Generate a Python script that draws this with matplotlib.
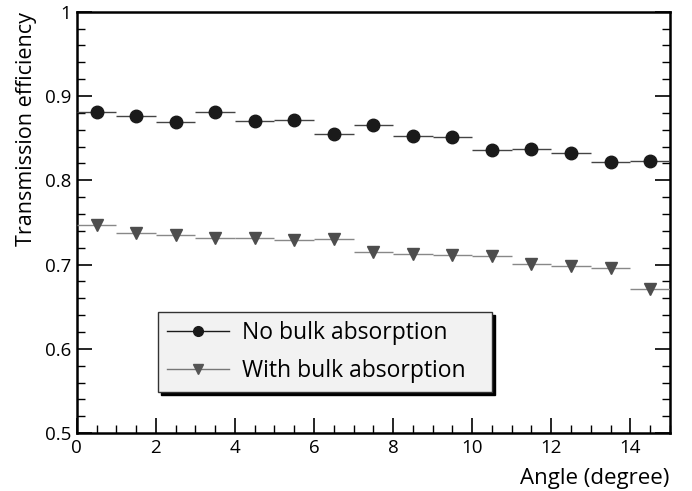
#!/usr/bin/env python3
# transmission efficiency vs angle, ROOT-like style

import matplotlib
matplotlib.use("Agg")
import matplotlib.pyplot as plt
from matplotlib.lines import Line2D
from matplotlib.ticker import MultipleLocator
import numpy as np

angle = [0.5, 1.5, 2.5, 3.5, 4.5, 5.5, 6.5, 7.5, 8.5, 9.5, 10.5, 11.5, 12.5, 13.5, 14.5]
angle_err = [0.5] * len(angle)
no_bulk = [0.881, 0.876, 0.869, 0.881, 0.870, 0.871, 0.855, 0.866, 0.852, 0.851,
           0.836, 0.837, 0.832, 0.822, 0.823]
with_bulk = [0.747, 0.738, 0.735, 0.731, 0.731, 0.729, 0.730, 0.715, 0.713, 0.711,
             0.710, 0.701, 0.698, 0.696, 0.671]

plt.rcParams['font.family'] = ['Open Sans', 'DejaVu Sans']

fig = plt.figure(figsize=(6.92, 4.91), dpi=100)
ax = fig.add_axes([0.111, 0.118, 0.857, 0.858])

ax.errorbar(angle, no_bulk, xerr=angle_err, fmt='o', color='#1a1a1a', ms=9,
            ecolor='#444444', elinewidth=1.0, capsize=0, zorder=3)
ax.errorbar(angle, with_bulk, xerr=angle_err, fmt='v', color='#4d4d4d', ms=9,
            ecolor='#888888', elinewidth=1.0, capsize=0, zorder=3)

ax.set_xlim(0, 15)
ax.set_ylim(0.5, 1.0)
ax.xaxis.set_major_locator(MultipleLocator(2))
ax.xaxis.set_minor_locator(MultipleLocator(0.5))
ax.yaxis.set_major_locator(MultipleLocator(0.1))
ax.yaxis.set_minor_locator(MultipleLocator(0.02))
ax.set_yticks([0.5, 0.6, 0.7, 0.8, 0.9, 1.0])
ax.set_yticklabels(['0.5', '0.6', '0.7', '0.8', '0.9', '1'])

ax.tick_params(which='both', direction='in', top=False, right=True, labelsize=13.5, pad=4)
ax.tick_params(which='major', length=11, width=1.2)
ax.tick_params(which='minor', length=6, width=1.0)
for s in ax.spines.values():
    s.set_linewidth(1.8)

ax.set_xlabel('Angle (degree)', fontsize=16, loc='right', labelpad=8)
ax.set_ylabel('Transmission efficiency', fontsize=15.5, loc='top', labelpad=6)

h1 = Line2D([], [], color='#1a1a1a', marker='o', ms=7, lw=1.0)
h2 = Line2D([], [], color='#777777', marker='v', ms=7, lw=1.0,
            markerfacecolor='#555555', markeredgecolor='#555555')
leg = ax.legend([h1, h2], ['No bulk absorption', 'With bulk absorption'],
                loc='lower left', bbox_to_anchor=(0.137, 0.097, 0.563, 0.188),
                mode='expand', fontsize=16.5, frameon=True, fancybox=False,
                shadow={'color': 'black', 'alpha': 1.0}, edgecolor='#333333',
                facecolor='#f2f2f2', framealpha=1.0, handlelength=2.7,
                handletextpad=0.55, borderpad=0.4, labelspacing=0.6, borderaxespad=0)
leg.get_frame().set_linewidth(1.0)

fig.savefig('out.png', dpi=100)
